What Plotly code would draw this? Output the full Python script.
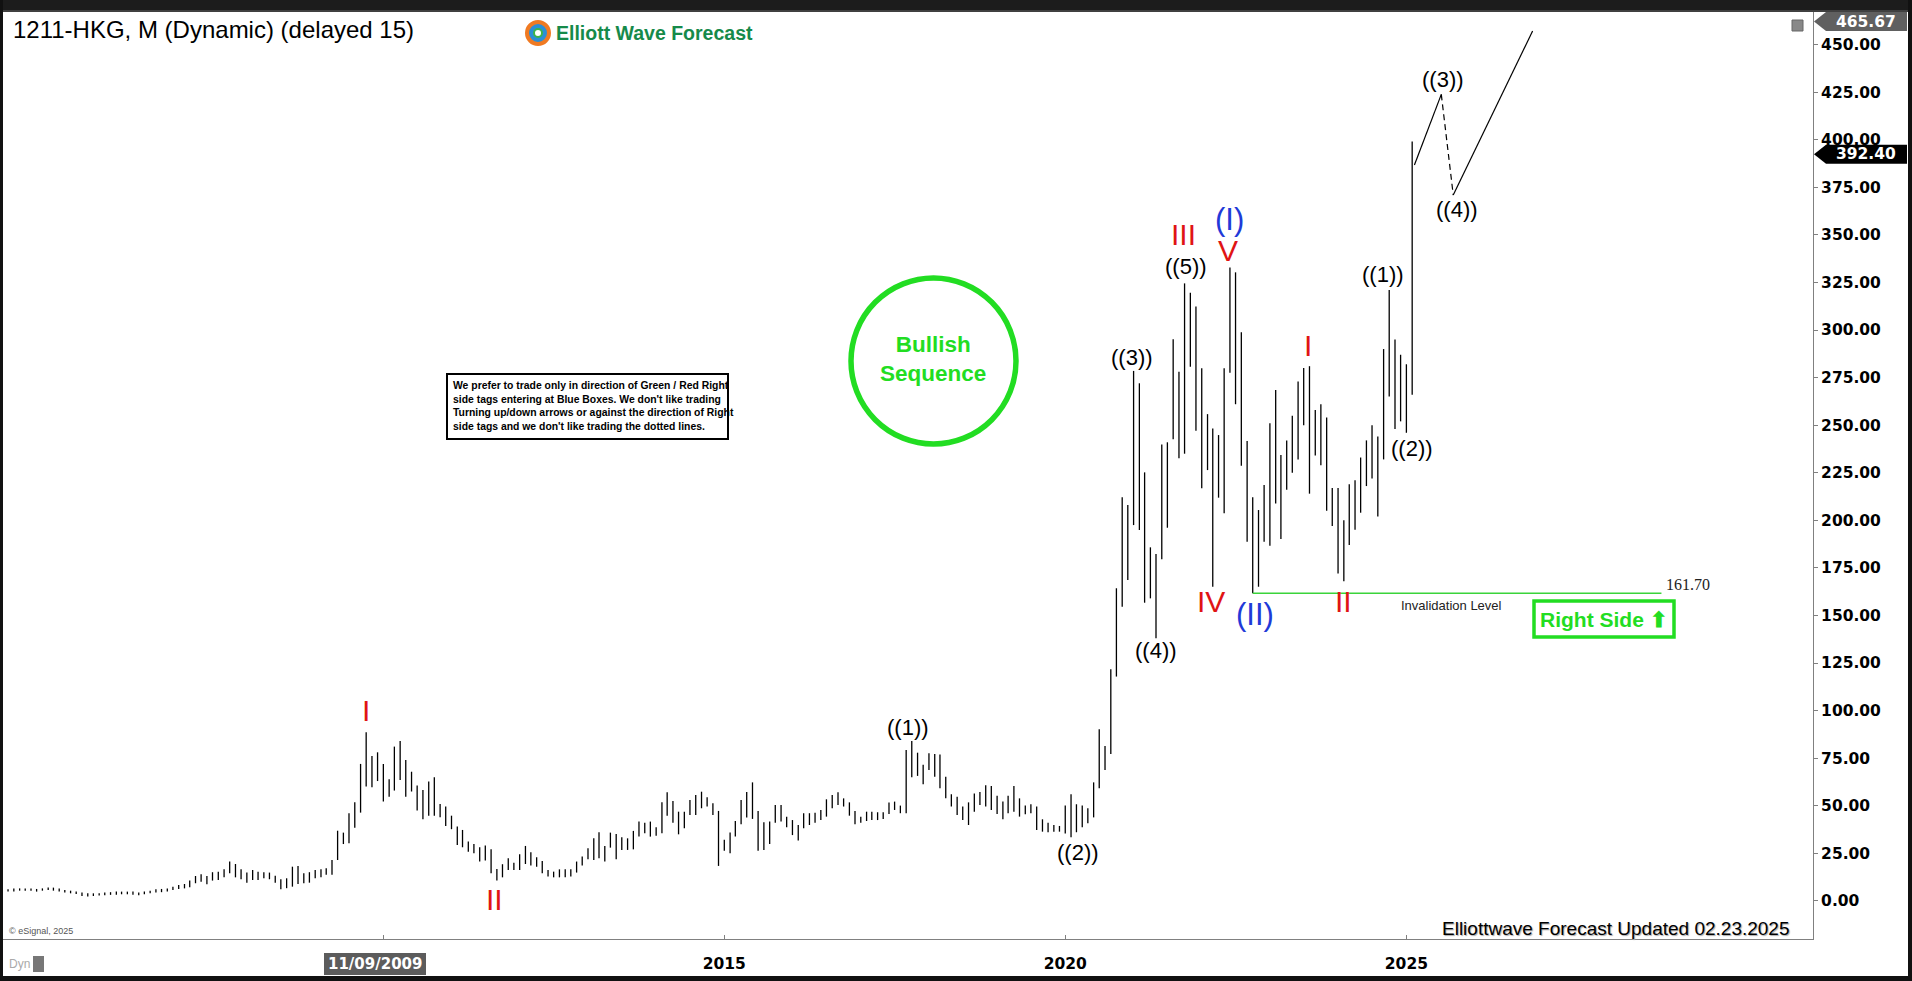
import plotly.graph_objects as go
import pandas as pd

# ---------------- data (monthly high / low, HKD) ----------------
TITLE = "1211-HKG, M (Dynamic) (delayed 15)"
first_month = "2004-07-01"

high_2004_2009 = [
    6.1, 6.6, 6.6, 6.6, 6.6, 6.3,
    6.6, 7.0, 7.0, 6.6, 5.8, 5.4, 4.9, 4.4, 4.0, 4.0, 4.0, 4.4,
    4.6, 4.9, 4.9, 4.9, 4.9, 4.4, 4.9, 5.4, 6.1, 6.3, 6.6, 7.5,
    8.4, 8.9, 10.7, 13.1, 14.0, 13.1, 15.1, 15.4, 16.6, 20.7, 19.4, 16.6,
    14.9, 16.3, 15.4, 15.1, 14.9, 13.3, 11.4, 11.9, 18.0, 18.4, 14.5, 15.1,
    16.3, 16.6, 17.2, 21.5, 36.9, 35.9, 46.1, 51.9, 72.0, 88.6, 76.2, 78.1,
]
low_2004_2009 = [
    4.9, 4.9, 5.4, 5.4, 5.3, 4.9,
    5.4, 5.8, 5.4, 4.9, 4.4, 4.0, 3.7, 2.6, 2.3, 2.6, 2.8, 3.0,
    3.2, 3.2, 3.5, 3.5, 3.2, 3.0, 3.5, 4.0, 4.4, 4.6, 4.9, 5.8,
    6.3, 6.6, 7.2, 9.3, 10.1, 8.8, 10.7, 11.0, 12.4, 14.5, 12.4, 11.4,
    9.6, 11.0, 11.0, 11.9, 11.4, 9.6, 6.1, 6.7, 7.5, 8.9, 9.3, 9.6,
    11.9, 12.4, 13.7, 13.7, 21.5, 29.9, 30.3, 38.5, 46.4, 60.1, 59.7, 63.0,
]
high_2010_2014 = [
    72.0, 63.9, 81.1, 84.1, 74.1, 67.9, 60.6, 58.3, 62.7, 65.0, 51.0, 49.6,
    44.8, 39.1, 37.3, 31.2, 29.9, 28.2, 29.1, 27.1, 16.8, 19.3, 22.4, 20.1,
    24.5, 28.9, 25.6, 22.9, 21.0, 16.3, 15.4, 16.6, 16.6, 16.6, 20.7, 23.3,
    27.7, 32.9, 36.1, 28.9, 35.9, 35.2, 33.5, 32.9, 36.8, 41.7, 41.1, 41.7,
    38.7, 51.8, 57.1, 52.5, 46.9, 46.9, 53.1, 55.7, 57.4, 54.5, 51.3, 47.3,
]
low_2010_2014 = [
    52.2, 54.8, 58.0, 63.6, 54.8, 57.5, 47.5, 42.9, 44.7, 44.7, 44.0, 39.4,
    37.7, 29.4, 28.2, 25.9, 25.1, 20.7, 21.2, 14.5, 10.7, 12.4, 16.3, 16.3,
    16.3, 19.4, 18.6, 18.0, 14.5, 12.8, 12.4, 12.4, 12.4, 12.8, 14.9, 18.6,
    21.9, 21.5, 22.4, 20.7, 28.0, 21.9, 26.8, 26.8, 27.1, 33.8, 35.6, 33.8,
    34.2, 35.6, 44.7, 41.1, 35.0, 38.2, 45.2, 45.2, 48.7, 49.6, 45.2, 18.4,
]
high_2015_2019 = [
    32.1, 35.9, 42.0, 53.1, 57.3, 62.3, 47.3, 41.3, 41.7, 50.4, 50.4, 44.3,
    42.5, 39.9, 46.1, 46.1, 46.4, 47.8, 53.4, 55.7, 57.1, 53.9, 51.8, 47.3,
    44.3, 46.9, 46.9, 46.6, 46.6, 51.7, 52.2, 50.1, 79.3, 84.0, 77.9, 71.5,
    77.6, 77.2, 77.0, 65.3, 56.0, 54.8, 49.6, 51.8, 56.5, 57.3, 60.8, 60.4,
    55.3, 52.2, 55.3, 60.4, 53.9, 50.1, 50.8, 49.6, 42.9, 41.1, 39.9, 39.4,
]
low_2015_2019 = [
    26.4, 25.0, 33.8, 40.3, 43.8, 43.1, 26.4, 26.8, 29.9, 41.1, 41.7, 38.7,
    34.6, 31.7, 38.2, 39.9, 41.1, 42.5, 44.3, 48.7, 50.4, 49.6, 44.8, 40.3,
    41.1, 42.0, 42.5, 42.5, 43.1, 45.7, 47.8, 46.1, 46.1, 65.0, 65.7, 61.3,
    68.8, 65.3, 59.2, 53.9, 49.6, 45.2, 42.5, 39.9, 46.9, 50.4, 49.6, 47.8,
    45.7, 42.9, 46.1, 46.9, 44.3, 45.5, 46.1, 37.3, 36.4, 36.1, 36.4, 36.4,
]
high_2020_2025 = [
    50.1, 56.0, 50.8, 50.1, 48.7, 62.3, 90.2, 81.4, 121.7, 164.3, 212.1, 208.1,
    278.5, 272.0, 225.2, 185.8, 182.3, 239.9, 241.0, 295.1, 278.1, 324.5, 319.6, 312.3,
    279.9, 255.8, 248.3, 244.8, 279.9, 332.9, 330.3, 298.8, 241.7, 212.1, 205.4, 218.6,
    251.0, 268.5, 234.3, 242.0, 255.0, 273.0, 280.0, 281.0, 258.0, 261.0, 254.0, 217.0,
    217.0, 200.0, 219.0, 221.0, 233.0, 242.0, 250.0, 244.0, 290.0, 321.0, 295.0, 287.0,
    282.0, 399.0,
]
low_2020_2025 = [
    35.5, 33.4, 36.1, 38.7, 40.8, 43.9, 59.2, 68.8, 77.2, 117.9, 154.6, 168.7,
    197.5, 194.9, 156.7, 159.0, 138.0, 179.5, 196.1, 242.6, 232.6, 235.0, 280.7, 247.1,
    216.8, 226.4, 165.1, 211.9, 203.7, 277.6, 261.0, 228.7, 188.8, 161.7, 165.1, 188.8,
    186.7, 208.9, 190.2, 216.0, 225.0, 232.0, 250.0, 214.0, 234.0, 229.0, 205.0, 197.0,
    172.0, 168.0, 187.0, 195.0, 204.0, 218.0, 222.0, 202.0, 232.0, 265.0, 248.0, 252.0,
    246.0, 266.0,
]

y_ticks = list(range(0, 451, 25))
x_tick_dates = ["2010-01-01", "2015-01-01", "2020-01-01", "2025-01-01"]
x_tick_text = ["", "2015", "2020", "2025"]
cursor_date_label = "11/09/2009"

last_price = 392.40
scale_top_label = "465.67"
invalidation_level = 161.70
invalidation_start = "2022-10-01"
invalidation_end = "2028-09-28"

# projected path ((3)) -> ((4)) -> up
proj_dates = ["2025-02-13", "2025-07-07", "2025-09-09", "2026-11-08"]
proj_values = [386.7, 423.8, 370.9, 457.1]

# wave labels: text, date, value, kind
wave_labels = [
    ("I", "2009-10-01", 100.0, "red"),
    ("II", "2011-08-20", 0.5, "red"),
    ("((1))", "2017-09-10", 90.9, "black"),
    ("((2))", "2020-03-09", 25.7, "black"),
    ("((3))", "2020-12-23", 285.8, "black"),
    ("((4))", "2021-05-01", 131.4, "black"),
    ("((5))", "2021-10-08", 333.6, "black"),
    ("III", "2021-09-23", 350.4, "red"),
    ("(I)", "2022-05-28", 358.3, "blue"),
    ("V", "2022-05-22", 342.0, "red"),
    ("IV", "2022-02-20", 157.1, "red"),
    ("(II)", "2022-10-14", 150.3, "blue"),
    ("I", "2023-07-25", 291.6, "red"),
    ("II", "2024-01-28", 157.1, "red"),
    ("((1))", "2024-08-28", 329.4, "black"),
    ("((2))", "2025-01-31", 238.0, "black"),
    ("((3))", "2025-07-16", 431.4, "black"),
    ("((4))", "2025-09-29", 363.1, "black"),
]

# ---------------- figure geometry ----------------
W, H = 1912, 981
L_PX, R_PX, T_PX, B_PX = 3, 1813, 12, 939
Y_TOP, Y_BOT = 467.1, -20.0
ref_day = pd.Timestamp("2015-01-01")
PX_PER_DAY = 0.18672
X_REF_PX = 724.3
x_left = ref_day + pd.Timedelta(days=(L_PX - X_REF_PX) / PX_PER_DAY)
x_right = ref_day + pd.Timedelta(days=(R_PX - X_REF_PX) / PX_PER_DAY)


def px(x):
    return (x - L_PX) / (R_PX - L_PX)


def py(y):
    return (B_PX - y) / (B_PX - T_PX)


def val_to_py(v):
    return T_PX + (Y_TOP - v) / (Y_TOP - Y_BOT) * (B_PX - T_PX)


GREEN = "#22dd22"
RED = "#e01414"
BLUE = "#1f3ad8"
SANS = "Liberation Sans, Arial, sans-serif"
AXF = "DejaVu Sans, Verdana, sans-serif"

highs = high_2004_2009 + high_2010_2014 + high_2015_2019 + high_2020_2025
lows = low_2004_2009 + low_2010_2014 + low_2015_2019 + low_2020_2025
months = pd.date_range(first_month, periods=len(highs), freq="MS")

xs, ys = [], []
for d, h, l in zip(months, highs, lows):
    xs += [d, d, None]
    ys += [l, h, None]

fig = go.Figure()
fig.add_trace(go.Scatter(x=xs, y=ys, mode="lines", line=dict(color="black", width=1.3),
                         hoverinfo="skip", showlegend=False))

# invalidation line
fig.add_trace(go.Scatter(x=[invalidation_start, invalidation_end],
                         y=[invalidation_level, invalidation_level], mode="lines",
                         line=dict(color="#3ad43a", width=1.4), hoverinfo="skip", showlegend=False))

# projection path
fig.add_trace(go.Scatter(x=proj_dates[0:2], y=proj_values[0:2], mode="lines",
                         line=dict(color="black", width=1.2), hoverinfo="skip", showlegend=False))
fig.add_trace(go.Scatter(x=proj_dates[1:3], y=proj_values[1:3], mode="lines",
                         line=dict(color="black", width=1.2, dash="6px,4px"), hoverinfo="skip", showlegend=False))
fig.add_trace(go.Scatter(x=proj_dates[2:4], y=proj_values[2:4], mode="lines",
                         line=dict(color="black", width=1.2), hoverinfo="skip", showlegend=False))

annotations = []
shapes = []

# wave labels
for text, d, v, kind in wave_labels:
    if kind == "black":
        color, size = "black", 22
    elif kind == "red":
        color, size = RED, 30
    else:
        color, size = BLUE, 31
    annotations.append(dict(x=d, y=v, xref="x", yref="y", text=text, showarrow=False,
                            font=dict(family=SANS, size=size, color=color),
                            xanchor="center", yanchor="middle"))

# invalidation texts
annotations.append(dict(x=px(1664), y=py(584), xref="paper", yref="paper",
                        text=f"{invalidation_level:.2f}", showarrow=False, xanchor="left", yanchor="middle",
                        font=dict(family="Liberation Serif, Times New Roman, serif", size=16, color="#222")))
annotations.append(dict(x=px(1451), y=py(606), xref="paper", yref="paper", text="Invalidation Level",
                        showarrow=False, xanchor="center", yanchor="middle",
                        font=dict(family=SANS, size=13, color="#222")))

# Right Side box
shapes.append(dict(type="rect", xref="paper", yref="paper", x0=px(1534), x1=px(1674), y0=py(637), y1=py(601),
                   line=dict(color=GREEN, width=3.5), fillcolor="white", layer="above"))
annotations.append(dict(x=px(1604), y=py(619), xref="paper", yref="paper", text="Right Side \u2b06",
                        showarrow=False, xanchor="center", yanchor="middle",
                        font=dict(family=SANS, size=21, color=GREEN, weight="bold")))

# Bullish sequence circle
shapes.append(dict(type="circle", xref="paper", yref="paper", x0=px(851), x1=px(1016), y0=py(444), y1=py(278),
                   line=dict(color=GREEN, width=5.5), layer="above"))
annotations.append(dict(x=px(933), y=py(359), xref="paper", yref="paper", text="Bullish<br>Sequence",
                        showarrow=False, xanchor="center", yanchor="middle", align="center",
                        font=dict(family=SANS, size=22.5, color=GREEN, weight="bold")))

# disclaimer
shapes.append(dict(type="rect", xref="paper", yref="paper", x0=px(447), x1=px(728), y0=py(439), y1=py(374),
                   line=dict(color="black", width=2), fillcolor="white", layer="above"))
annotations.append(dict(x=px(451), y=py(406), xref="paper", yref="paper",
                        text=("We prefer to trade only in direction of Green / Red Right<br>"
                              "side tags entering at Blue Boxes. We don't like trading<br>"
                              "Turning up/down arrows or against the direction of Right<br>"
                              "side tags and we don't like trading the dotted lines."),
                        showarrow=False, xanchor="left", yanchor="middle", align="left",
                        font=dict(family="Liberation Sans Narrow, Arial Narrow, Liberation Sans, sans-serif",
                                  size=10.4, color="black", weight="bold")))

# title & logo
annotations.append(dict(x=px(11), y=py(30), xref="paper", yref="paper", text=TITLE, showarrow=False,
                        xanchor="left", yanchor="middle", font=dict(family=SANS, size=24, color="black")))
shapes.append(dict(type="circle", xref="paper", yref="paper", x0=px(527), x1=px(549), y0=py(44), y1=py(22),
                   line=dict(color="#f07a22", width=4), fillcolor="#2b8fd6", layer="above"))
shapes.append(dict(type="circle", xref="paper", yref="paper", x0=px(534), x1=px(542), y0=py(37), y1=py(29),
                   line=dict(color="#3cb44a", width=2), fillcolor="white", layer="above"))
annotations.append(dict(x=px(554), y=py(33), xref="paper", yref="paper", text="Elliott Wave Forecast",
                        showarrow=False, xanchor="left", yanchor="middle",
                        font=dict(family=SANS, size=19.5, color="#168a4a", weight="bold")))

# bottom texts
annotations.append(dict(x=px(1792), y=py(928), xref="paper", yref="paper",
                        text="Elliottwave Forecast Updated 02.23.2025", showarrow=False,
                        xanchor="right", yanchor="middle",
                        font=dict(family=SANS, size=19, color="black", shadow="1px 1px 1px #aaaaaa")))
annotations.append(dict(x=px(7), y=py(931), xref="paper", yref="paper", text="\u00a9 eSignal, 2025",
                        showarrow=False, xanchor="left", yanchor="middle",
                        font=dict(family=SANS, size=9, color="#555")))
annotations.append(dict(x=px(7), y=py(964), xref="paper", yref="paper", text="Dyn",
                        showarrow=False, xanchor="left", yanchor="middle",
                        font=dict(family=SANS, size=12, color="#aaa")))
shapes.append(dict(type="rect", xref="paper", yref="paper", x0=px(33), x1=px(44), y0=py(972), y1=py(956),
                   line=dict(width=0), fillcolor="#777", layer="above"))

# cursor date label
shapes.append(dict(type="rect", xref="paper", yref="paper", x0=px(324), x1=px(426), y0=py(975), y1=py(953),
                   line=dict(width=0), fillcolor="#5c5c5c", layer="above"))
annotations.append(dict(x=px(375), y=py(964), xref="paper", yref="paper", text=cursor_date_label,
                        showarrow=False, xanchor="center", yanchor="middle",
                        font=dict(family=AXF, size=15, color="white", weight="bold")))


# price tags on right axis
def tag(y_center, color):
    t, b = y_center - 9.5, y_center + 9.5
    path = (f"M {px(1814)} {py(y_center)} L {px(1826)} {py(t)} L {px(1907)} {py(t)} "
            f"L {px(1907)} {py(b)} L {px(1826)} {py(b)} Z")
    return dict(type="path", xref="paper", yref="paper", path=path, fillcolor=color,
                line=dict(width=0), layer="above")


lp_y = val_to_py(last_price)
shapes.append(tag(lp_y, "black"))
annotations.append(dict(x=px(1866), y=py(lp_y), xref="paper", yref="paper", text=f"{last_price:.2f}",
                        showarrow=False, xanchor="center", yanchor="middle",
                        font=dict(family=AXF, size=15.5, color="white", weight="bold")))
shapes.append(tag(21.5, "#606060"))
annotations.append(dict(x=px(1866), y=py(21.5), xref="paper", yref="paper", text=scale_top_label,
                        showarrow=False, xanchor="center", yanchor="middle",
                        font=dict(family=AXF, size=15.5, color="white", weight="bold")))

# small restore icon top-right
shapes.append(dict(type="rect", xref="paper", yref="paper", x0=px(1792), x1=px(1803), y0=py(31), y1=py(20),
                   line=dict(color="#666", width=1), fillcolor="#888", layer="above"))

# dark frame
shapes.append(dict(type="rect", xref="paper", yref="paper", x0=px(0), x1=px(W), y0=py(12), y1=py(0),
                   line=dict(width=0), fillcolor="#1c1c1c", layer="above"))
shapes.append(dict(type="line", xref="paper", yref="paper", x0=px(0), x1=px(W), y0=py(11), y1=py(11),
                   line=dict(color="#4d4d4d", width=1.5), layer="above"))
shapes.append(dict(type="rect", xref="paper", yref="paper", x0=px(0), x1=px(3), y0=py(H), y1=py(0),
                   line=dict(width=0), fillcolor="#111", layer="above"))
shapes.append(dict(type="rect", xref="paper", yref="paper", x0=px(1908), x1=px(W), y0=py(H), y1=py(0),
                   line=dict(width=0), fillcolor="#111", layer="above"))
shapes.append(dict(type="rect", xref="paper", yref="paper", x0=px(0), x1=px(W), y0=py(H), y1=py(976),
                   line=dict(width=0), fillcolor="#111", layer="above"))

fig.update_layout(
    width=W, height=H,
    margin=dict(l=L_PX, r=W - R_PX, t=T_PX, b=H - B_PX, pad=0),
    paper_bgcolor="white", plot_bgcolor="white",
    showlegend=False,
    annotations=annotations,
    shapes=shapes,
    xaxis=dict(type="date", range=[x_left, x_right], showgrid=False, zeroline=False,
               showline=True, linecolor="#808080", linewidth=1,
               tickmode="array", tickvals=x_tick_dates, ticktext=x_tick_text,
               ticks="inside", ticklen=4, tickcolor="#808080", ticklabelstandoff=10,
               tickfont=dict(family=AXF, size=15.5, color="black", weight="bold")),
    yaxis=dict(side="right", range=[Y_BOT, Y_TOP], showgrid=False, zeroline=False,
               showline=True, linecolor="#808080", linewidth=1,
               tickmode="array", tickvals=y_ticks, tickformat=".2f",
               ticks="outside", ticklen=4, tickcolor="#808080",
               tickfont=dict(family=AXF, size=15.5, color="black", weight="bold")),
)

fig.write_html("out.html", config={"displayModeBar": False},
               post_script="document.body.style.margin='0px';")
